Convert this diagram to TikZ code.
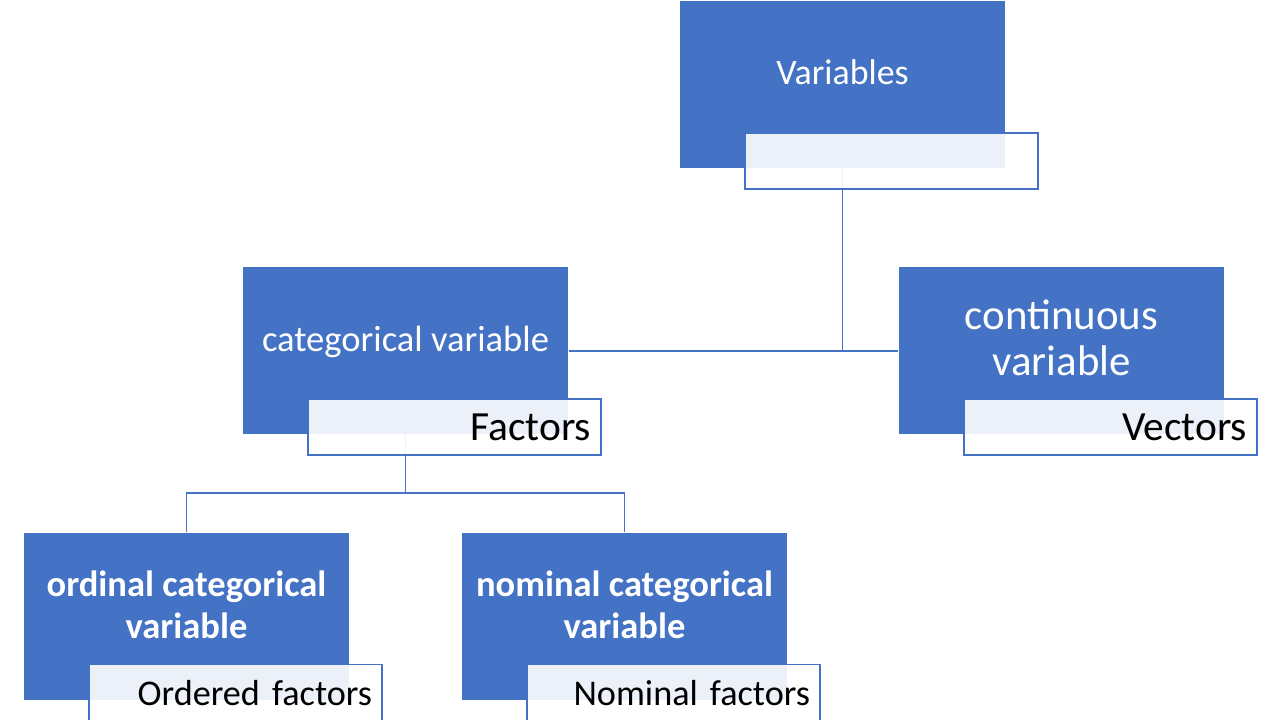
\documentclass[tikz,border=0pt]{standalone}
\usepackage{fontspec}
\setmainfont{Carlito}
\usetikzlibrary{backgrounds}

\definecolor{boxblue}{HTML}{4472C4}

\tikzset{
    blockbox/.style={fill=boxblue, minimum width=3.25cm, minimum height=1.67cm, inner sep=0},
    boxtext/.style={text=white, align=center, inner sep=0},
    lblbox/.style={draw=boxblue, line width=0.4pt, fill=white, fill opacity=0.9, text opacity=1,
        minimum width=2.93cm, minimum height=0.56cm, text width=2.73cm, align=right,
        inner xsep=0.1cm, inner ysep=0, anchor=north west},
    link/.style={draw=boxblue, line width=0.4pt}
}

\begin{document}
\begin{tikzpicture}
    \useasboundingbox (0,0) rectangle (12.8,7.2);

    % Variables
    \node[blockbox] (var) at (8.425,6.35) {};
    \node[boxtext, font=\fontsize{10.2}{12}\selectfont] (varText) at (8.425,6.475) {Variables};
    \node[lblbox] (varLbl) at ([xshift=0.65cm, yshift=0.37cm]var.south west) {};

    % categorical
    \node[blockbox] (cat) at (4.055,3.69) {};
    \node[boxtext, font=\fontsize{10.4}{12}\selectfont] (catText) at (4.055,3.78) {categorical variable};
    \node[lblbox, font=\fontsize{11.8}{13}\selectfont] (catLbl) at ([xshift=0.65cm, yshift=0.37cm]cat.south west) {Factors};

    % continuous
    \node[blockbox] (cont) at (10.615,3.69) {};
    \node[boxtext, font=\fontsize{12.2}{13.1}\selectfont] (contText) at (10.615,3.82) {continuous\\variable};
    \node[lblbox, font=\fontsize{11.8}{13}\selectfont] (contLbl) at ([xshift=0.65cm, yshift=0.37cm]cont.south west) {Vectors};

    % ordinal
    \node[blockbox] (ord) at (1.865,1.035) {};
    \node[boxtext, font=\bfseries\fontsize{10.4}{11.9}\selectfont] (ordText) at (1.865,1.15) {ordinal categorical\\variable};
    \node[lblbox, minimum height=0.58cm, font=\fontsize{10.3}{12}\selectfont] (ordLbl) at ([xshift=0.65cm, yshift=0.37cm]ord.south west) {Ordered factors};

    % nominal
    \node[blockbox] (nom) at (6.245,1.035) {};
    \node[boxtext, font=\bfseries\fontsize{10.4}{11.9}\selectfont] (nomText) at (6.245,1.15) {nominal categorical\\variable};
    \node[lblbox, minimum height=0.58cm, font=\fontsize{10.3}{12}\selectfont] (nomLbl) at ([xshift=0.65cm, yshift=0.37cm]nom.south west) {Nominal factors};

    % links
    \coordinate (catJoin) at (4.055,2.27);
    \begin{scope}[on background layer]
        \draw[link] (var.south) -- (var.south |- cat.east);
        \draw[link] (cat.east) -- (cont.west);
        \draw[link] (cat.south) -- (catJoin);
        \draw[link] (ord.north) |- (catJoin) -| (nom.north);
    \end{scope}
\end{tikzpicture}
\end{document}
